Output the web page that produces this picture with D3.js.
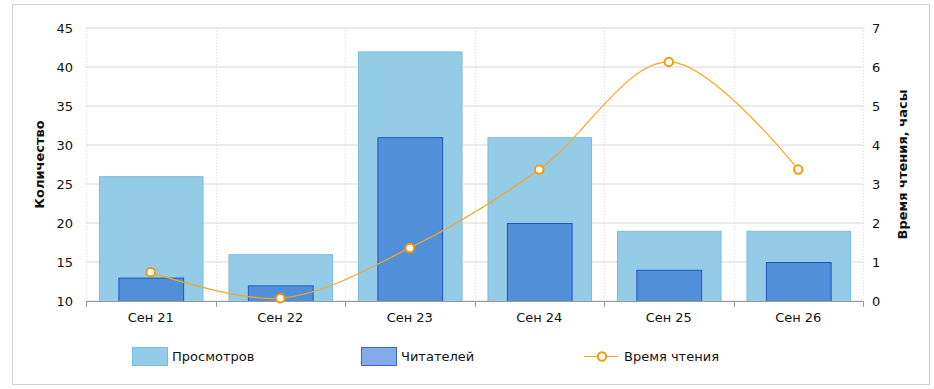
<!DOCTYPE html>
<html><head><meta charset="utf-8">
<script src="https://cdn.jsdelivr.net/npm/d3@7"></script>
<style>body{margin:0;background:#fff}svg{display:block}text{font-family:Verdana,"DejaVu Sans",sans-serif}</style>
</head><body><svg id="c" width="934" height="389"></svg>
<script>
const categories = ["Сен 21","Сен 22","Сен 23","Сен 24","Сен 25","Сен 26"];
const views = [26,16,42,31,19,19];
const readers = [13,12,31,20,14,15];
const readTime = [0.74,0.07,1.36,3.37,6.13,3.37];
const leftTicks = [10,15,20,25,30,35,40,45];
const rightTicks = [0,1,2,3,4,5,6,7];
const seriesNames = ["Просмотров","Читателей","Время чтения"];

const svg = d3.select("#c");
const L=86,R=863,T=28,B=301;
svg.append("rect").attr("x",12.5).attr("y",4.5).attr("width",917).attr("height",380).attr("fill","#fff").attr("stroke","#d0d0d0");

const x = d3.scaleBand().domain(categories).range([L,R]);
const yL = d3.scaleLinear().domain([10,45]).range([B,T]);
const yR = d3.scaleLinear().domain([0,7]).range([B,T]);

// horizontal grid
svg.append("g").selectAll("line").data(leftTicks).join("line")
  .attr("x1",L).attr("x2",R).attr("y1",d=>yL(d)).attr("y2",d=>yL(d))
  .attr("stroke","#ebebeb").attr("stroke-width",2);
// vertical dotted grid
const bounds = categories.map(c=>x(c)).concat([R]);
svg.append("g").selectAll("line").data(bounds).join("line")
  .attr("x1",d=>Math.round(d)+0.5).attr("x2",d=>Math.round(d)+0.5).attr("y1",T).attr("y2",B)
  .attr("stroke","#dcdcdc").attr("stroke-dasharray","1,2");

// bars
const bw = x.bandwidth();
svg.append("g").selectAll("rect").data(views).join("rect")
  .attr("x",(d,i)=>x(categories[i])+bw*0.1+0.5).attr("width",bw*0.8)
  .attr("y",d=>yL(d)+0.5).attr("height",d=>B-yL(d))
  .attr("fill","#94cce8").attr("stroke","#76bde2");
svg.append("g").selectAll("rect").data(readers).join("rect")
  .attr("x",(d,i)=>x(categories[i])+bw*0.25+0.5).attr("width",bw*0.5)
  .attr("y",d=>yL(d)+0.5).attr("height",d=>B-yL(d))
  .attr("fill","#528fd9").attr("stroke","#1d55c9");

// bottom axis
const ax = svg.append("g").attr("transform",`translate(0,${B})`);
ax.append("line").attr("x1",L).attr("x2",R).attr("y1",0.5).attr("y2",0.5).attr("stroke","#999");
ax.selectAll("line.t").data(bounds).join("line").attr("class","t")
  .attr("x1",d=>Math.round(d)+0.5).attr("x2",d=>Math.round(d)+0.5).attr("y1",0).attr("y2",6).attr("stroke","#999");
ax.selectAll("text").data(categories).join("text")
  .attr("x",d=>x(d)+bw/2).attr("y",21).attr("text-anchor","middle")
  .attr("font-size",13).attr("fill","#111").text(d=>d);

// left axis labels
svg.append("g").selectAll("text").data(leftTicks).join("text")
  .attr("x",73).attr("y",d=>yL(d)+5).attr("text-anchor","end")
  .attr("font-size",13).attr("fill","#111").text(d=>d);
// right axis labels
svg.append("g").selectAll("text").data(rightTicks).join("text")
  .attr("x",872).attr("y",d=>yR(d)+5).attr("text-anchor","start")
  .attr("font-size",13).attr("fill","#111").text(d=>d);

// axis titles
svg.append("text").attr("transform",`translate(44,${(T+B)/2}) rotate(-90)`)
  .attr("text-anchor","middle").attr("font-size",13).attr("font-weight","bold").attr("fill","#111").text("Количество");
svg.append("text").attr("transform",`translate(907,${(T+B)/2}) rotate(-90)`)
  .attr("text-anchor","middle").attr("font-size",13).attr("font-weight","bold").attr("fill","#111").text("Время чтения, часы");

// line
const pts = readTime.map((v,i)=>[x(categories[i])+bw/2, yR(v)]);
svg.append("path").attr("d",d3.line().curve(d3.curveCatmullRom.alpha(0.5))(pts))
  .attr("fill","none").attr("stroke","#f6a623").attr("stroke-width",1.2);
svg.append("g").selectAll("circle").data(pts).join("circle")
  .attr("cx",d=>d[0]).attr("cy",d=>d[1]).attr("r",4.2)
  .attr("fill","#fff").attr("stroke","#f89a00").attr("stroke-width",2);

// legend
const lg = svg.append("g");
lg.append("rect").attr("x",132.5).attr("y",347.5).attr("width",35).attr("height",18).attr("fill","#94cce8").attr("stroke","#76bde2");
lg.append("text").attr("x",172).attr("y",361).attr("font-size",13).attr("fill","#111").text(seriesNames[0]);
lg.append("rect").attr("x",361.5).attr("y",347.5).attr("width",35).attr("height",18).attr("fill","#86a9ea").attr("stroke","#3467d0");
lg.append("text").attr("x",401).attr("y",361).attr("font-size",13).attr("fill","#111").text(seriesNames[1]);
lg.append("line").attr("x1",584).attr("x2",618).attr("y1",356.5).attr("y2",356.5).attr("stroke","#f6a623").attr("stroke-width",1.2);
lg.append("circle").attr("cx",602).attr("cy",356.5).attr("r",4.2).attr("fill","#fff").attr("stroke","#f89a00").attr("stroke-width",2);
lg.append("text").attr("x",624).attr("y",361).attr("font-size",13).attr("fill","#111").text(seriesNames[2]);
</script></body></html>
